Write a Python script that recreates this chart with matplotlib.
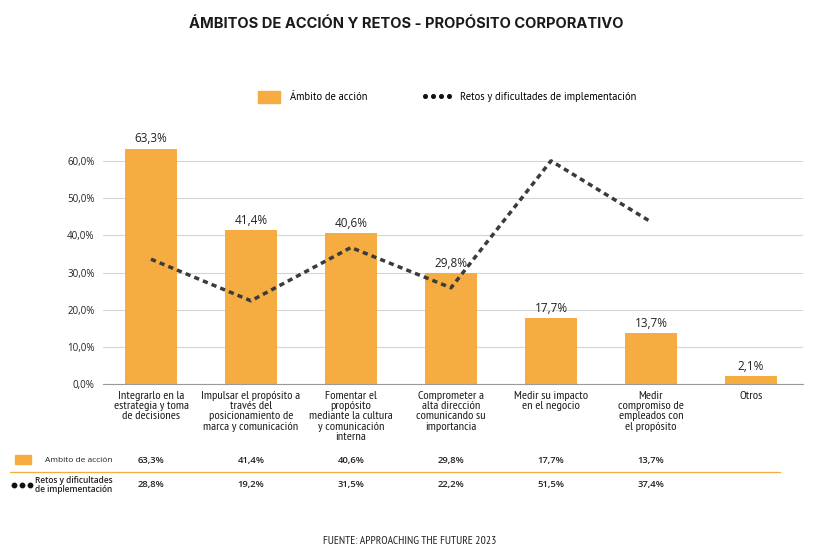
import numpy as np
from matplotlib import pyplot as plt
from matplotlib import transforms, font_manager
from matplotlib.patches import Rectangle
from matplotlib.lines import Line2D
from matplotlib.ticker import FuncFormatter

# Datos
categorias = [
    "Integrarlo en la\nestrategia y toma\nde decisiones",
    "Impulsar el propósito a\ntravés del\nposicionamiento de\nmarca y comunicación",
    "Fomentar el\npropósito\nmediante la cultura\ny comunicación\ninterna",
    "Comprometer a\nalta dirección\ncomunicando su\nimportancia",
    "Medir su impacto\nen el negocio",
    "Medir\ncompromiso de\nempleados con\nel propósito",
    "Otros",
]
ambito = [63.3, 41.4, 40.6, 29.8, 17.7, 13.7, 2.1]
retos = [28.8, 19.2, 31.5, 22.2, 51.5, 37.4, np.nan]
yticks = [0, 10, 20, 30, 40, 50, 60]

naranja = "#F5AD42"
gris = "#3b3b3b"


def pick(*names):
    """Devuelve las familias instaladas de la lista, con DejaVu Sans al final."""
    avail = {f.name for f in font_manager.fontManager.ttflist}
    return [n for n in names if n in avail] + ["DejaVu Sans"]


narrow = pick("PT Sans Narrow", "Roboto Condensed")
humanist = pick("PT Sans", "Open Sans")
numfont = pick("Open Sans")
titlefont = pick("Inter")


def pct(v):
    return f"{v:.1f}".replace(".", ",") + "%"


fig = plt.figure(figsize=(8.25, 5.57), dpi=100)
ax = fig.add_axes([103 / 825, 1 - 384 / 557, 700 / 825, 260 / 557])
x = np.arange(len(categorias))

# Barras
ax.bar(x, ambito, width=0.52, color=naranja, zorder=2)
for xi, v in zip(x, ambito):
    ax.annotate(pct(v), (xi, v), xytext=(0, 2.5), textcoords="offset points",
                ha="center", va="bottom", fontsize=8.5, family=numfont, color="#222222")

ax.set_xlim(-0.48, 6.52)
ax.set_ylim(0, 70)
ax.set_yticks(yticks)
ax.yaxis.set_major_formatter(FuncFormatter(lambda v, p: pct(v)))
ax.grid(axis="y", color="#d4d4d4", lw=0.8, zorder=0)
ax.set_axisbelow(True)
for s in ["top", "right", "left"]:
    ax.spines[s].set_visible(False)
ax.spines["bottom"].set_color("#9a9a9a")
ax.tick_params(axis="both", length=0)
ax.tick_params(axis="y", labelsize=7, pad=6, labelcolor="#222222")
for t in ax.get_yticklabels():
    t.set_family(numfont)
ax.set_xticks(x)
ax.set_xticklabels(categorias, fontsize=8.9, family=narrow, linespacing=1.03, color="#1a1a1a")
ax.tick_params(axis="x", pad=5)

# Línea en eje secundario (oculto)
ax2 = ax.twinx()
ax2.set_ylim(0, 60)
ax2.plot(x, retos, color=gris, lw=2.5, linestyle=(0, (1.5, 1.2)), zorder=3)
ax2.axis("off")

# Título
fig.text(0.493, 1 - 24 / 557, "ÁMBITOS DE ACCIÓN Y RETOS - PROPÓSITO CORPORATIVO",
         ha="center", va="center", fontsize=10.6, fontweight="bold", family=titlefont,
         color="#1a1a1a")

# Leyenda superior
yl = 1 - 97 / 557
fig.patches.append(Rectangle((258 / 825, yl - 6 / 557), 22 / 825, 12 / 557,
                             transform=fig.transFigure, color=naranja))
fig.text(290 / 825, yl, "Ámbito de acción", ha="left", va="center", fontsize=7.6, family=humanist)
fig.lines.append(Line2D(np.linspace(425, 449, 4) / 825, [yl + 1 / 557] * 4, transform=fig.transFigure,
                        color="#111111", lw=0, marker="o", markersize=2.6))
fig.text(460 / 825, yl, "Retos y dificultades de implementación", ha="left", va="center",
         fontsize=7.6, family=humanist)

# Tabla inferior
tr = transforms.blended_transform_factory(ax.transData, fig.transFigure)
y1 = 1 - 460 / 557
y2 = 1 - 485 / 557
for xi, v in zip(x, ambito[:6]):
    fig.text(xi, y1, pct(v), transform=tr, ha="center", va="center", fontsize=6.8,
             fontweight="semibold", family=numfont, color="#222222")
for xi, v in zip(x, retos[:6]):
    fig.text(xi, y2, pct(v), transform=tr, ha="center", va="center", fontsize=6.8,
             fontweight="semibold", family=numfont, color="#222222")

fig.patches.append(Rectangle((15 / 825, y1 - 4 / 557), 16 / 825, 9 / 557,
                             transform=fig.transFigure, color=naranja))
fig.text(45 / 825, y1, "Ambito de acción", ha="left", va="center", fontsize=6,
         family=numfont, color="#222222")
fig.lines.append(Line2D([10 / 825, 780 / 825], [1 - 472 / 557] * 2, transform=fig.transFigure,
                        color=naranja, lw=0.9))
fig.lines.append(Line2D(np.linspace(14, 30, 3) / 825, [y2] * 3, transform=fig.transFigure,
                        color="#111111", lw=0, marker="o", markersize=3.2))
fig.text(74 / 825, y2, "Retos y dificultades\nde implementación", ha="center", va="center",
         fontsize=6, fontweight="semibold", family=numfont, linespacing=0.9, color="#222222")

# Fuente
fig.text(410 / 825, 1 - 541 / 557, "FUENTE: APPROACHING THE FUTURE 2023", ha="center", va="center",
         fontsize=8.4, family=narrow, color="#222222")

fig.savefig("out.png", dpi=100)
